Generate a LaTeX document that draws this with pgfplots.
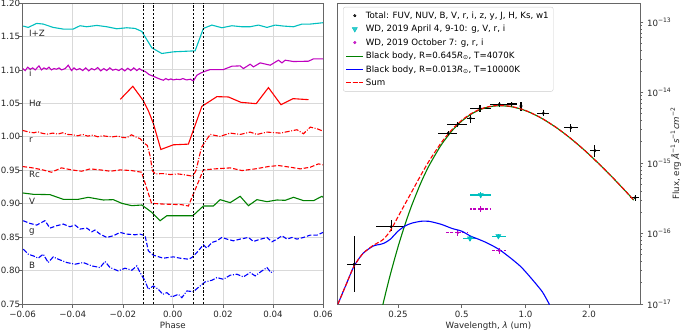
\documentclass[border=0pt]{standalone}
\usepackage{fontspec}
\setmainfont{DejaVu Sans}
\usepackage{pgfplots}
\pgfplotsset{compat=1.18}
\definecolor{mc}{rgb}{0,0.75,0.75}
\definecolor{mm}{rgb}{0.75,0,0.75}
\definecolor{mg}{rgb}{0,0.5,0}
\definecolor{mb}{rgb}{0,0,1}
\definecolor{mr}{rgb}{1,0,0}
\newcommand{\fs}{\fontsize{8.7}{10.4}\selectfont}
\pgfplotsset{
  every axis/.append style={
    scale only axis,
    font=\fs,
    axis line style={draw=black!60},
    tick style={draw=black!60, line width=0.6bp},
    major tick length=3.5bp, minor tick length=2bp,
    tick align=outside,
    scaled ticks=false,
    every tick label/.append style={text=black!85, font=\fs},
    label style={text=black!85, font=\fs},
  }
}
\begin{document}
\begin{tikzpicture}[font=\fs]
\path[use as bounding box] (-22.7bp,-29bp) rectangle (662.3bp,304bp);
% ---------------- left panel ----------------
\begin{axis}[at={(0,0)}, anchor=south west, width=300.3bp, height=301bp,
  xmin=-0.06, xmax=0.06, ymin=0.75, ymax=1.2,
  xtick={-0.06,-0.04,-0.02,0,0.02,0.04,0.06},
  xticklabels={−0.06,−0.04,−0.02,0.00,0.02,0.04,0.06},
  ytick={0.75,0.80,0.85,0.90,0.95,1.00,1.05,1.10,1.15,1.20},
  yticklabels={0.75,0.80,0.85,0.90,0.95,1.00,1.05,1.10,1.15,1.20},
  yticklabel style={xshift=4.5bp},
  xtick pos=left, ytick pos=left,
  grid=major, grid style={draw=black!15, line width=0.8bp},
  xlabel={Phase},
  xlabel style={yshift=3bp},
  every axis plot/.append style={line width=1.1bp},
]
% I+Z
\addplot[mc] coordinates {(-0.0598,1.1655) (-0.0578,1.1635) (-0.0544,1.1695) (-0.0518,1.1685) (-0.0478,1.1635) (-0.0438,1.1610) (-0.0398,1.1610) (-0.0371,1.1660) (-0.0344,1.1645) (-0.0304,1.1665) (-0.0264,1.1645) (-0.0224,1.1615) (-0.0184,1.1630) (-0.0151,1.1620) (-0.0124,1.1575) (-0.0084,1.1330) (-0.0044,1.1245) (0.0002,1.1270) (0.0089,1.1285) (0.0122,1.1620) (0.0156,1.1670) (0.0196,1.1630) (0.0236,1.1660) (0.0276,1.1645) (0.0309,1.1645) (0.0342,1.1670) (0.0376,1.1635) (0.0409,1.1670) (0.0442,1.1655) (0.0482,1.1645) (0.0516,1.1685) (0.0549,1.1685) (0.0600,1.1705)};
% i
\addplot[mm] coordinates {(-0.0600,1.1020) (-0.0590,1.0990) (-0.0580,1.1040) (-0.0570,1.1010) (-0.0560,1.1030) (-0.0550,1.1000) (-0.0535,1.1060) (-0.0525,1.1000) (-0.0515,1.1030) (-0.0505,1.1010) (-0.0495,1.1040) (-0.0485,1.1000) (-0.0475,1.1020) (-0.0465,1.1010) (-0.0455,1.1030) (-0.0445,1.1000) (-0.0430,1.1020) (-0.0418,1.1070) (-0.0405,1.0990) (-0.0395,1.1030) (-0.0385,1.1000) (-0.0372,1.1020) (-0.0360,1.0990) (-0.0348,1.1030) (-0.0336,1.0985) (-0.0325,1.1020) (-0.0313,1.1000) (-0.0300,1.1035) (-0.0288,1.0985) (-0.0276,1.1020) (-0.0264,1.0990) (-0.0252,1.1030) (-0.0240,1.0995) (-0.0228,1.1010) (-0.0216,1.0990) (-0.0204,1.1020) (-0.0192,1.0985) (-0.0180,1.1025) (-0.0168,1.0990) (-0.0156,1.1030) (-0.0144,1.0990) (-0.0134,1.1020) (-0.0124,1.0995) (-0.0110,1.0975) (-0.0095,1.0930) (-0.0078,1.0905) (-0.0060,1.0875) (-0.0050,1.0860) (-0.0038,1.0845) (-0.0028,1.0870) (-0.0018,1.0850) (-0.0008,1.0865) (0.0002,1.0850) (0.0014,1.0860) (0.0029,1.0855) (0.0040,1.0870) (0.0055,1.0850) (0.0070,1.0860) (0.0082,1.0835) (0.0096,1.0920) (0.0110,1.0950) (0.0122,1.0970) (0.0149,1.1005) (0.0202,1.1005) (0.0236,1.1055) (0.0269,1.1060) (0.0282,1.1020) (0.0309,1.1085) (0.0322,1.1045) (0.0349,1.1105) (0.0389,1.1070) (0.0422,1.1145) (0.0436,1.1105) (0.0449,1.1145) (0.0482,1.1125) (0.0542,1.1130) (0.0562,1.1165) (0.0600,1.1165)};
% H alpha
\addplot[mr] coordinates {(-0.0210,1.0560) (-0.0160,1.0755) (-0.0118,1.0540) (-0.0098,1.0390) (-0.0078,1.0200) (-0.0048,0.9810) (0.0002,0.9880) (0.0062,0.9890) (0.0116,1.0455) (0.0176,1.0600) (0.0222,1.0595) (0.0272,1.0515) (0.0333,1.0495) (0.0382,1.0735) (0.0432,1.0480) (0.0480,1.0570) (0.0542,1.0555)};
% r
\addplot[mr, dash pattern=on 5bp off 1.6bp on 1bp off 1.6bp] coordinates {(-0.0600,1.0095) (-0.0575,1.0070) (-0.0555,1.0060) (-0.0540,1.0075) (-0.0520,1.0050) (-0.0500,1.0040) (-0.0480,1.0055) (-0.0460,1.0040) (-0.0440,1.0060) (-0.0420,1.0035) (-0.0400,1.0030) (-0.0380,1.0015) (-0.0360,1.0035) (-0.0340,1.0010) (-0.0320,1.0025) (-0.0300,1.0000) (-0.0280,1.0015) (-0.0260,1.0005) (-0.0240,1.0000) (-0.0220,1.0010) (-0.0200,0.9990) (-0.0185,0.9985) (-0.0165,1.0030) (-0.0150,1.0000) (-0.0130,0.9970) (-0.0115,0.9905) (-0.0102,0.9870) (-0.0090,0.9700) (-0.0082,0.9495) (-0.0070,0.9445) (-0.0040,0.9450) (-0.0010,0.9435) (0.0020,0.9445) (0.0050,0.9430) (0.0080,0.9410) (0.0093,0.9500) (0.0105,0.9695) (0.0115,0.9845) (0.0149,1.0035) (0.0189,1.0005) (0.0229,1.0055) (0.0269,1.0035) (0.0309,1.0070) (0.0336,1.0035) (0.0376,1.0070) (0.0429,1.0055) (0.0496,1.0105) (0.0522,1.0045) (0.0549,1.0145) (0.0576,1.0120) (0.0600,1.0085)};
% Rc
\addplot[mr, dash pattern=on 4.5bp off 2bp] coordinates {(-0.0600,0.9555) (-0.0560,0.9535) (-0.0520,0.9505) (-0.0485,0.9470) (-0.0445,0.9535) (-0.0405,0.9505) (-0.0365,0.9485) (-0.0330,0.9520) (-0.0290,0.9505) (-0.0250,0.9485) (-0.0210,0.9505) (-0.0165,0.9495) (-0.0125,0.9470) (-0.0085,0.9005) (-0.0045,0.8995) (-0.0005,0.8990) (0.0035,0.8985) (0.0062,0.8965) (0.0122,0.9505) (0.0168,0.9520) (0.0229,0.9535) (0.0276,0.9495) (0.0329,0.9520) (0.0382,0.9555) (0.0422,0.9570) (0.0469,0.9545) (0.0509,0.9520) (0.0549,0.9545) (0.0582,0.9595) (0.0600,0.9580)};
% V
\addplot[mg] coordinates {(-0.0600,0.9160) (-0.0558,0.9140) (-0.0491,0.9135) (-0.0438,0.9065) (-0.0378,0.9065) (-0.0338,0.9095) (-0.0278,0.9055) (-0.0238,0.9060) (-0.0204,0.9005) (-0.0164,0.8970) (-0.0124,0.8980) (-0.0084,0.8870) (-0.0051,0.8745) (-0.0024,0.8820) (0.0080,0.8820) (0.0122,0.8965) (0.0162,0.8965) (0.0189,0.9060) (0.0229,0.9015) (0.0269,0.9110) (0.0302,0.8970) (0.0336,0.9060) (0.0376,0.9030) (0.0416,0.9055) (0.0449,0.9050) (0.0482,0.9095) (0.0522,0.9045) (0.0562,0.9045) (0.0596,0.9110) (0.0600,0.9095)};
% g
\addplot[mb, dash pattern=on 4.5bp off 2bp] coordinates {(-0.0598,0.8745) (-0.0571,0.8705) (-0.0544,0.8680) (-0.0524,0.8720) (-0.0511,0.8745) (-0.0491,0.8635) (-0.0464,0.8670) (-0.0438,0.8695) (-0.0411,0.8655) (-0.0391,0.8680) (-0.0371,0.8620) (-0.0344,0.8635) (-0.0324,0.8580) (-0.0311,0.8605) (-0.0291,0.8545) (-0.0264,0.8495) (-0.0238,0.8520) (-0.0211,0.8570) (-0.0184,0.8545) (-0.0151,0.8535) (-0.0131,0.8545) (-0.0111,0.8520) (-0.0098,0.8295) (-0.0078,0.8230) (-0.0038,0.8185) (0.0002,0.8205) (0.0029,0.8185) (0.0062,0.8170) (0.0076,0.8195) (0.0096,0.8270) (0.0122,0.8385) (0.0136,0.8335) (0.0156,0.8420) (0.0176,0.8445) (0.0196,0.8495) (0.0216,0.8470) (0.0242,0.8445) (0.0269,0.8470) (0.0302,0.8495) (0.0322,0.8435) (0.0342,0.8460) (0.0376,0.8495) (0.0396,0.8430) (0.0416,0.8470) (0.0436,0.8520) (0.0456,0.8470) (0.0476,0.8495) (0.0496,0.8470) (0.0522,0.8495) (0.0549,0.8530) (0.0576,0.8530) (0.0600,0.8570)};
% B
\addplot[mb, dash pattern=on 5bp off 1.6bp on 1bp off 1.6bp] coordinates {(-0.0598,0.8320) (-0.0578,0.8245) (-0.0558,0.8220) (-0.0538,0.8185) (-0.0518,0.8245) (-0.0498,0.8120) (-0.0478,0.8205) (-0.0458,0.8170) (-0.0424,0.8120) (-0.0391,0.8095) (-0.0358,0.8120) (-0.0324,0.8070) (-0.0291,0.8045) (-0.0271,0.8135) (-0.0251,0.8045) (-0.0218,0.7995) (-0.0191,0.8035) (-0.0164,0.8005) (-0.0144,0.8070) (-0.0131,0.7970) (-0.0111,0.7845) (-0.0098,0.7720) (-0.0078,0.7770) (-0.0058,0.7720) (-0.0040,0.7645) (-0.0024,0.7670) (-0.0004,0.7605) (0.0022,0.7645) (0.0036,0.7595) (0.0056,0.7695) (0.0082,0.7685) (0.0109,0.7770) (0.0129,0.7830) (0.0156,0.7855) (0.0176,0.7895) (0.0202,0.7870) (0.0229,0.7930) (0.0256,0.7945) (0.0282,0.7905) (0.0309,0.7970) (0.0329,0.7920) (0.0356,0.7995) (0.0376,0.8045) (0.0392,0.7970) (0.0402,0.7995)};
% eclipse contact lines
\addplot[black, line width=0.6bp, dash pattern=on 2.2bp off 1.6bp] coordinates {(-0.012,0.75) (-0.012,1.2)};
\addplot[black, line width=0.6bp, dash pattern=on 2.2bp off 1.6bp] coordinates {(-0.008,0.75) (-0.008,1.2)};
\addplot[black, line width=0.6bp, dash pattern=on 2.2bp off 1.6bp] coordinates {(0.008,0.75) (0.008,1.2)};
\addplot[black, line width=0.6bp, dash pattern=on 2.2bp off 1.6bp] coordinates {(0.012,0.75) (0.012,1.2)};
\begin{scope}[every node/.style={anchor=west, text=black!85, inner sep=0pt, font=\fs}]
\node at (axis cs:-0.0575,1.1550) {I+Z};
\node at (axis cs:-0.0575,1.0945) {i};
\node at (axis cs:-0.0575,1.0495) {H\textit{α}};
\node at (axis cs:-0.0575,0.9945) {r};
\node at (axis cs:-0.0575,0.9435) {Rc};
\node at (axis cs:-0.0575,0.9035) {V};
\node at (axis cs:-0.0575,0.8570) {g};
\node at (axis cs:-0.0575,0.8085) {B};
\end{scope}
\end{axis}
% ---------------- right panel ----------------
\begin{axis}[at={(314.3bp,0)}, anchor=south west, width=303bp, height=301bp,
  xmode=log, ymode=log,
  xmin=0.1287, xmax=3.48, ymin=1e-17, ymax=1.86e-13,
  xtick={0.25,0.5,1,2}, xticklabels={0.25,0.5,1.0,2.0}, minor xtick={},
  ytick={1e-17,1e-16,1e-15,1e-14,1e-13},
  yticklabels={10\textsuperscript{−17},10\textsuperscript{−16},10\textsuperscript{−15},10\textsuperscript{−14},10\textsuperscript{−13}},
  minor ytick={2e-17,3e-17,4e-17,5e-17,6e-17,7e-17,8e-17,9e-17,2e-16,3e-16,4e-16,5e-16,6e-16,7e-16,8e-16,9e-16,2e-15,3e-15,4e-15,5e-15,6e-15,7e-15,8e-15,9e-15,2e-14,3e-14,4e-14,5e-14,6e-14,7e-14,8e-14,9e-14},
  xtick pos=left, ytick pos=right, yticklabel pos=right,
  xlabel={Wavelength, \textit{λ} (um)},
  xlabel style={yshift=3bp},
  ylabel={Flux, erg \textit{Å}\textsuperscript{−1}\textit{s}\textsuperscript{−1}\textit{cm}\textsuperscript{−2}},
  ylabel style={at={(axis description cs:1.118,0.5)}, anchor=center, rotate=0},
  legend cell align=left,
  legend style={at={(axis description cs:0.02,0.987)}, anchor=north west,
    draw=black!20, rounded corners=2bp, fill=white, fill opacity=0.8, text opacity=1,
    font=\fs, row sep=1.4bp, inner sep=2.5bp},
]
\addplot[only marks, black, mark=*, mark size=1.3bp,
  error bars/.cd, x dir=both, x explicit, y dir=both, y explicit,
  error mark=none, error bar style={line width=1.1bp, black}]
coordinates {
 (0.155,3.66e-17) += (0.013,5.54e-17) -= (0.012,2.19e-17)
 (0.232,1.25e-16) += (0.038,0.30e-16) -= (0.036,0.18e-16)
 (0.432,2.64e-15) += (0.042,0.25e-15) -= (0.044,0.25e-15)
 (0.479,3.54e-15) += (0.053,0.30e-15) -= (0.053,0.30e-15)
 (0.550,4.30e-15) += (0.025,0.60e-15) -= (0.022,0.60e-15)
 (0.610,5.97e-15) += (0.076,0.70e-15) -= (0.060,0.70e-15)
 (0.753,6.81e-15) += (0.090,0.50e-15) -= (0.073,0.50e-15)
 (0.862,6.87e-15) += (0.048,0.50e-15) -= (0.047,0.50e-15)
 (0.953,6.44e-15) += (0.015,0.90e-15) -= (0.015,0.90e-15)
 (1.215,5.07e-15) += (0.082,0.50e-15) -= (0.078,0.50e-15)
 (1.640,3.17e-15) += (0.130,0.45e-15) -= (0.110,0.45e-15)
 (2.130,1.50e-15) += (0.120,0.33e-15) -= (0.110,0.27e-15)
 (3.300,3.22e-16) += (0.150,0.35e-16) -= (0.170,0.35e-16)
};
\addlegendentry{Total: FUV, NUV, B, V, r, i, z, y, J, H, Ks, w1}
\addplot[only marks, mc, mark=triangle*, mark options={rotate=180}, mark size=3bp,
  error bars/.cd, x dir=both, x explicit, y dir=both, y explicit,
  error mark=none, error bar style={line width=1.1bp, mc}]
coordinates {
 (0.615,3.52e-16) += (0.071,0.30e-16) -= (0.065,0.30e-16)
 (0.547,8.55e-17) += (0.040,0.80e-17) -= (0.038,0.80e-17)
 (0.745,9.20e-17) += (0.062,0.80e-17) -= (0.052,0.80e-17)
};
\addlegendentry{WD, 2019 April 4, 9-10: g, V, r, i}
\addplot[only marks, mm, mark=*, mark size=1.3bp,
  error bars/.cd, x dir=both, x explicit, y dir=both, y explicit,
  error mark=none, error bar style={line width=1.1bp, mm, dash pattern=on 3bp off 1.5bp}]
coordinates {
 (0.615,2.23e-16) += (0.071,0.20e-16) -= (0.065,0.20e-16)
 (0.479,1.03e-16) += (0.057,0.10e-16) -= (0.056,0.10e-16)
 (0.753,5.70e-17) += (0.054,0.60e-17) -= (0.060,0.60e-17)
};
\addlegendentry{WD, 2019 October 7: g, r, i}
\addplot[mg, line width=1.1bp, smooth, tension=0.4] coordinates {
 (0.205,6.28e-18) (0.215,1.169e-17) (0.23,2.63e-17) (0.25,6.47e-17) (0.27,1.352e-16) (0.29,2.488e-16) (0.32,5.17e-16) (0.35,9.11e-16) (0.40,1.805e-15) (0.45,2.869e-15) (0.50,3.93e-15) (0.55,4.86e-15) (0.60,5.587e-15) (0.65,6.09e-15) (0.70,6.383e-15) (0.76,6.50e-15) (0.85,6.325e-15) (0.95,5.838e-15) (1.05,5.218e-15) (1.2,4.269e-15) (1.4,3.180e-15) (1.6,2.355e-15) (1.8,1.755e-15) (2.0,1.322e-15) (2.3,8.85e-16) (2.6,6.10e-16) (3.0,3.876e-16) (3.25,2.982e-16)};
\addlegendentry{Black body, R=0.645\textit{R}\textsubscript{⊙}, T=4070K}
\addplot[mb, line width=1.1bp, smooth, tension=0.4] coordinates {
 (0.130,1.0e-17) (0.143,1.97e-17) (0.155,3.46e-17) (0.171,5.24e-17) (0.191,6.65e-17) (0.205,7.0e-17) (0.215,7.3e-17) (0.23,8.3e-17) (0.25,1.08e-16) (0.27,1.28e-16) (0.29,1.40e-16) (0.32,1.49e-16) (0.35,1.49e-16) (0.40,1.35e-16) (0.45,1.18e-16) (0.50,1.08e-16) (0.55,9.2e-17) (0.60,8.3e-17) (0.65,7.5e-17) (0.70,6.7e-17) (0.76,5.8e-17) (0.85,4.5e-17) (0.95,3.4e-17) (1.05,2.44e-17) (1.2,1.5e-17) (1.3,9.8e-18)};
\addlegendentry{Black body, R=0.013\textit{R}\textsubscript{⊙}, T=10000K}
\addplot[mr, line width=1.1bp, dash pattern=on 4.5bp off 2bp, smooth, tension=0.4] coordinates {
 (0.130,1.0e-17) (0.143,1.97e-17) (0.155,3.46e-17) (0.171,5.24e-17) (0.191,6.8e-17) (0.205,7.63e-17) (0.215,8.47e-17) (0.23,1.093e-16) (0.25,1.727e-16) (0.27,2.632e-16) (0.29,3.888e-16) (0.32,6.66e-16) (0.35,1.06e-15) (0.40,1.94e-15) (0.45,2.987e-15) (0.50,4.038e-15) (0.55,4.952e-15) (0.60,5.67e-15) (0.65,6.165e-15) (0.70,6.45e-15) (0.76,6.558e-15) (0.85,6.37e-15) (0.95,5.872e-15) (1.05,5.242e-15) (1.2,4.284e-15) (1.4,3.185e-15) (1.6,2.357e-15) (1.8,1.756e-15) (2.0,1.323e-15) (2.3,8.86e-16) (2.6,6.10e-16) (3.0,3.876e-16) (3.25,2.982e-16)};
\addlegendentry{Sum}
\end{axis}
\end{tikzpicture}
\end{document}
